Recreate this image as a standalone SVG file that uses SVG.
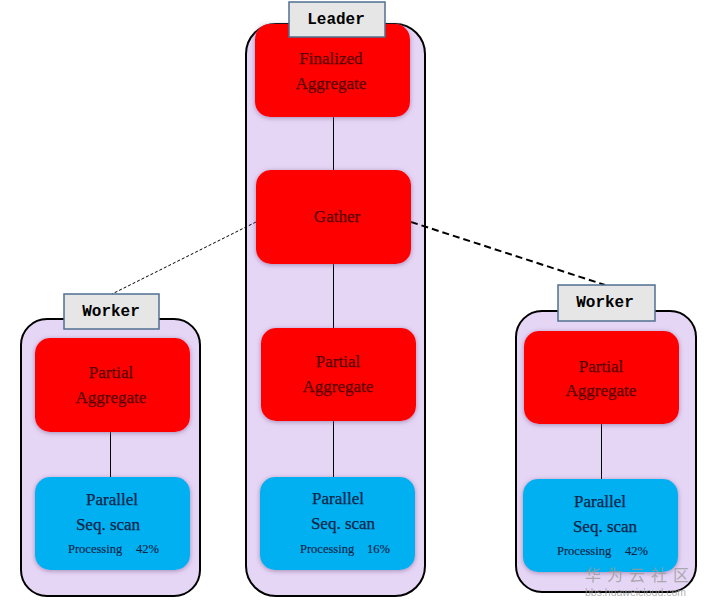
<svg xmlns="http://www.w3.org/2000/svg" width="707" height="605" viewBox="0 0 707 605">
<defs>
<filter id="sh" x="-10%" y="-10%" width="120%" height="120%">
<feGaussianBlur in="SourceAlpha" stdDeviation="2.5"/>
<feOffset dx="0" dy="1" result="b"/>
<feFlood flood-color="#8a6a9a" flood-opacity="0.7"/>
<feComposite in2="b" operator="in"/>
<feMerge><feMergeNode/><feMergeNode in="SourceGraphic"/></feMerge>
</filter>
</defs>
<style>
.cont{fill:#e6d6f6;stroke:#000;stroke-width:2}
.lab{fill:#e6e6e6;stroke:#4f6f90;stroke-width:1.5}
.labt{font-family:"Liberation Mono",monospace;font-weight:bold;font-size:16px;fill:#000;text-anchor:middle}
.red{fill:#ff0000;filter:url(#sh)}
.blue{fill:#00b0f0;filter:url(#sh)}
.rt{font-family:"Liberation Serif",serif;font-size:17px;fill:#580000;stroke:#580000;stroke-width:0.25;text-anchor:middle}
.bt{font-family:"Liberation Serif",serif;font-size:17px;fill:#0a2448;stroke:#0a2448;stroke-width:0.25;text-anchor:middle}
.st{font-family:"Liberation Serif",serif;font-size:12.5px;fill:#0a2448;stroke:#0a2448;stroke-width:0.15}
.ln{stroke:#000;stroke-width:1;fill:none}
</style>
<rect width="707" height="605" fill="#fff"/>
<g id="leader">
<rect class="cont" x="246" y="24" width="179" height="572" rx="30"/>
</g>
<g id="worker-left">
<rect class="cont" x="21" y="319" width="179" height="277" rx="26"/>
</g>
<g id="worker-right">
<rect class="cont" x="516" y="311" width="180" height="281" rx="26"/>
</g>
<g id="connectors">
<line class="ln" x1="333.5" y1="117" x2="333.5" y2="477"/>
<line class="ln" x1="110.5" y1="432" x2="110.5" y2="478"/>
<line class="ln" x1="601.5" y1="424" x2="601.5" y2="480"/>
<line x1="256" y1="222" x2="112" y2="294" stroke="#000" stroke-width="1" stroke-dasharray="3,2"/>
<line x1="411" y1="222" x2="605" y2="285" stroke="#000" stroke-width="2" stroke-dasharray="7,4"/>
</g>
<g id="finalized-aggregate">
<rect class="red" x="255" y="24" width="155" height="93" rx="15"/>
<text class="rt" x="331" y="64">Finalized</text>
<text class="rt" x="331" y="89">Aggregate</text>
</g>
<g id="leader-label">
<rect class="lab" x="289" y="2" width="96" height="35"/>
<text class="labt" x="336" y="24">Leader</text>
</g>
<g id="gather">
<rect class="red" x="256" y="170" width="155" height="94" rx="15"/>
<text class="rt" x="337" y="222">Gather</text>
</g>
<g id="partial-aggregate-mid">
<rect class="red" x="261" y="328" width="155" height="93" rx="15"/>
<text class="rt" x="338" y="367">Partial</text>
<text class="rt" x="338" y="392">Aggregate</text>
</g>
<g id="seqscan-mid">
<rect class="blue" x="260" y="477" width="155" height="93" rx="15"/>
<text class="bt" x="338" y="504">Parallel</text>
<text class="bt" x="343" y="529">Seq. scan</text>
<text class="st" x="300" y="553">Processing</text>
<text class="st" x="367" y="553">16%</text>
</g>
<g id="worker-label-left">
<rect class="lab" x="64" y="294" width="95" height="35"/>
<text class="labt" x="111" y="316">Worker</text>
</g>
<g id="partial-aggregate-left">
<rect class="red" x="35" y="338" width="155" height="94" rx="15"/>
<text class="rt" x="111" y="378">Partial</text>
<text class="rt" x="111" y="403">Aggregate</text>
</g>
<g id="seqscan-left">
<rect class="blue" x="35" y="477" width="155" height="93" rx="15"/>
<text class="bt" x="112" y="505">Parallel</text>
<text class="bt" x="108" y="530">Seq. scan</text>
<text class="st" x="68" y="553">Processing</text>
<text class="st" x="136" y="553">42%</text>
</g>
<g id="worker-label-right">
<rect class="lab" x="558" y="285" width="97" height="36"/>
<text class="labt" x="605" y="307">Worker</text>
</g>
<g id="partial-aggregate-right">
<rect class="red" x="524" y="331" width="155" height="93" rx="15"/>
<text class="rt" x="601" y="372">Partial</text>
<text class="rt" x="601" y="396">Aggregate</text>
</g>
<g id="seqscan-right">
<rect class="blue" x="523" y="479" width="155" height="93" rx="15"/>
<text class="bt" x="600" y="507">Parallel</text>
<text class="bt" x="605" y="532">Seq. scan</text>
<text class="st" x="557" y="555">Processing</text>
<text class="st" x="625" y="555">42%</text>
</g>
<g id="watermark" fill="#9a9a9a" fill-opacity="0.8" font-family="'Noto Sans CJK SC',sans-serif">
<text x="585" y="581" font-size="16" letter-spacing="6">华为云社区</text>
<text x="585" y="596" font-size="10.5" font-family="'Liberation Sans',sans-serif">bbs.huaweicloud.com</text>
</g>
</svg>
